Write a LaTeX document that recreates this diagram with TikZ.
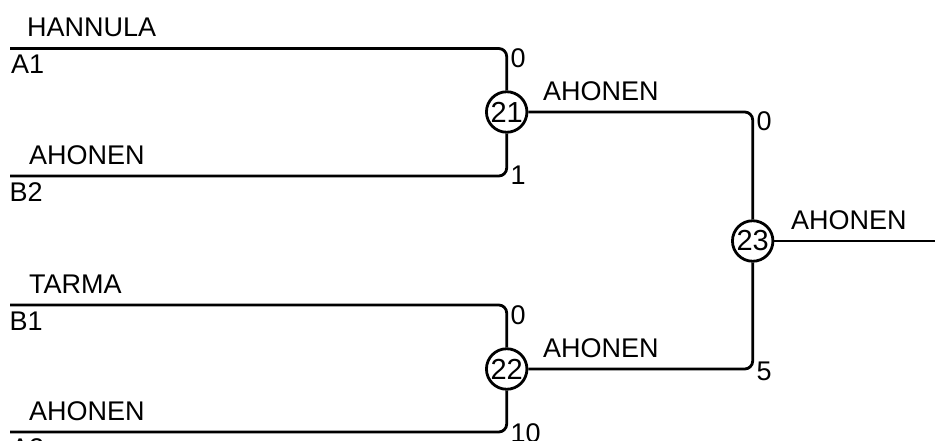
\documentclass[tikz,border=0pt]{standalone}
\usepackage{fontspec}
\setmainfont{Liberation Sans}
\begin{document}
\begin{tikzpicture}[x=1pt,y=-1pt,
  seg/.style={line width=2.8pt, rounded corners=8pt},
  game/.style={circle, draw, line width=2.8pt, minimum size=40.5pt, inner sep=0pt, font=\fontsize{29}{32}\selectfont},
  lbl/.style={anchor=base west, inner sep=0pt, font=\fontsize{27}{32}\selectfont}]
\useasboundingbox (0,0) rectangle (935,441);
% starting points
\coordinate (A1s) at (10,48.5);
\coordinate (B2s) at (10,176);
\coordinate (B1s) at (10,305);
\coordinate (A2s) at (10,432);
\coordinate (outE) at (935,241);
% games
\node[game] (g21) at (506.7,112) {21};
\node[game] (g22) at (506.7,369) {22};
\node[game] (g23) at (752.7,241) {23};
% connectors
\draw[seg] (A1s) -| (g21);
\draw[seg] (B2s) -| (g21);
\draw[seg] (B1s) -| (g22);
\draw[seg] (A2s) -| (g22);
\draw[seg] (g21) -| (g23);
\draw[seg] (g22) -| (g23);
\draw[seg] (g23) -- (outE);
% names above lines
\node[lbl] (n1) at (27,36.5) {HANNULA};
\node[lbl] (n2) at (29,164.5) {AHONEN};
\node[lbl] (n3) at (29,293.5) {TARMA};
\node[lbl] (n4) at (29,420.5) {AHONEN};
\node[lbl] (n5) at (543,100.5) {AHONEN};
\node[lbl] (n6) at (543,357.5) {AHONEN};
\node[lbl] (n7) at (791,229.5) {AHONEN};
% seeds below lines
\node[lbl] (s1) at (11,73.5) {A1};
\node[lbl] (s2) at (9.5,201.5) {B2};
\node[lbl] (s3) at (9.5,330) {B1};
\node[lbl] (s4) at (11,457) {A2};
% scores
\node[lbl] (r1) at (510.5,67.5) {0};
\node[lbl] (r2) at (510.5,185) {1};
\node[lbl] (r3) at (510.5,324.5) {0};
\node[lbl] (r4) at (510.5,442) {10};
\node[lbl] (r5) at (756.5,131) {0};
\node[lbl] (r6) at (756.5,380) {5};
\end{tikzpicture}
\end{document}
